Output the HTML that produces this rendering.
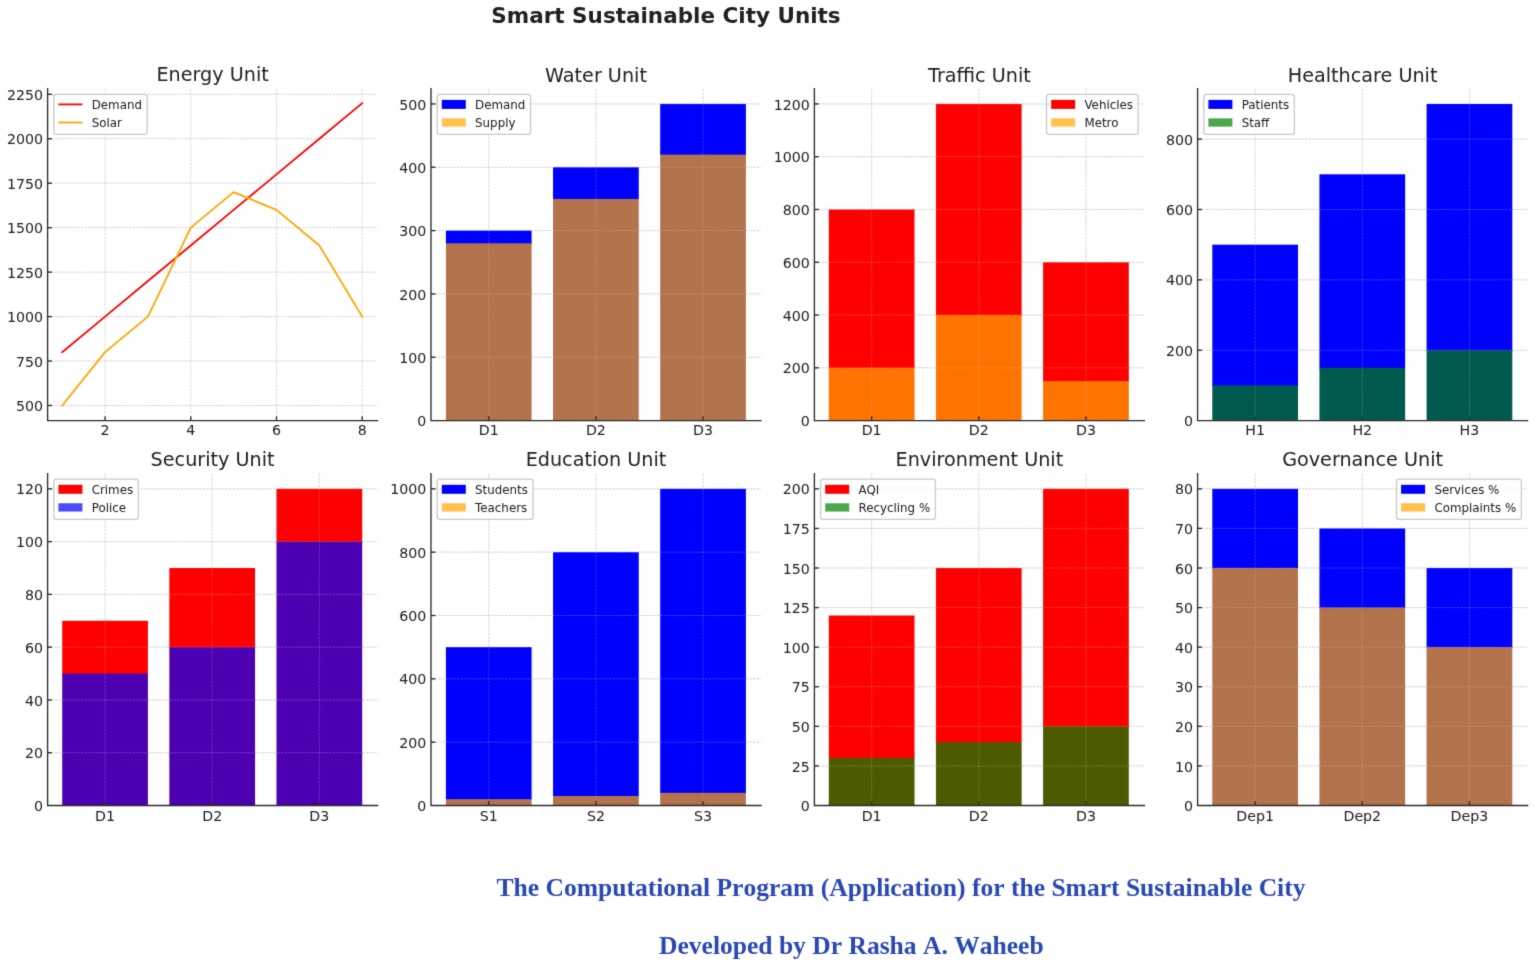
<!DOCTYPE html>
<html lang="en">
<head>
<meta charset="utf-8">
<title>Smart Sustainable City Units</title>
<style>
html,body{margin:0;padding:0;background:#ffffff;}
body{width:1535px;height:966px;position:relative;overflow:hidden;}
svg{position:absolute;left:0;top:0;display:block;}
</style>
</head>
<body>
<svg width="1535" height="966" viewBox="0 0 1535 966" font-family="'DejaVu Sans','Liberation Sans',sans-serif" fill="#202020">
<defs><filter id="soft" x="0" y="0" width="1535" height="966" filterUnits="userSpaceOnUse" color-interpolation-filters="sRGB"><feConvolveMatrix order="3" kernelMatrix="0.0144 0.0912 0.0144 0.0912 0.5776 0.0912 0.0144 0.0912 0.0144" edgeMode="duplicate" preserveAlpha="true"/></filter></defs>
<g filter="url(#soft)">
<rect width="1535" height="966" fill="#ffffff"/>
<text x="666.0" y="23.0" font-size="21.5" font-weight="bold" text-anchor="middle">Smart Sustainable City Units</text>
<g>
<text x="212.6" y="81" font-size="19.2" text-anchor="middle">Energy Unit</text>
<g stroke="#a0a0a0" stroke-opacity="0.45" stroke-width="1.0" stroke-dasharray="2.6 1.1" fill="none"><path d="M105.06 420.6V88.1" stroke-opacity="0.383"/><path d="M190.77 420.6V88.1" stroke-opacity="0.383"/><path d="M276.49 420.6V88.1" stroke-opacity="0.383"/><path d="M362.2 420.6V88.1" stroke-opacity="0.383"/><path d="M47.6 405.49H377.6"/><path d="M47.6 361.03H377.6"/><path d="M47.6 316.58H377.6"/><path d="M47.6 272.13H377.6"/><path d="M47.6 227.68H377.6"/><path d="M47.6 183.23H377.6"/><path d="M47.6 138.78H377.6"/><path d="M47.6 94.32H377.6"/></g>
<polyline points="62.2,352.14 105.06,316.58 147.91,281.02 190.77,245.46 233.63,209.9 276.49,174.34 319.34,138.78 362.2,103.21" fill="none" stroke="#ff0000" stroke-width="1.8" stroke-linejoin="round" stroke-linecap="square"/>
<polyline points="62.2,405.49 105.06,352.14 147.91,316.58 190.77,227.68 233.63,192.12 276.49,209.9 319.34,245.46 362.2,316.58" fill="none" stroke="#ffa500" stroke-width="1.8" stroke-linejoin="round" stroke-linecap="square"/>
<g stroke="#2c2c2c" stroke-width="1.35" fill="none"><path d="M105.06 420.6v-4.4"/><path d="M190.77 420.6v-4.4"/><path d="M276.49 420.6v-4.4"/><path d="M362.2 420.6v-4.4"/><path d="M47.6 405.49h4.4"/><path d="M47.6 361.03h4.4"/><path d="M47.6 316.58h4.4"/><path d="M47.6 272.13h4.4"/><path d="M47.6 227.68h4.4"/><path d="M47.6 183.23h4.4"/><path d="M47.6 138.78h4.4"/><path d="M47.6 94.32h4.4"/><path d="M47.6 88.1V421.28M46.93 420.6H378.28"/></g>
<g font-size="14.2"><text x="105.06" y="435.4" text-anchor="middle">2</text><text x="190.77" y="435.4" text-anchor="middle">4</text><text x="276.49" y="435.4" text-anchor="middle">6</text><text x="362.2" y="435.4" text-anchor="middle">8</text><text x="43" y="411.09" text-anchor="end">500</text><text x="43" y="366.63" text-anchor="end">750</text><text x="43" y="322.18" text-anchor="end">1000</text><text x="43" y="277.73" text-anchor="end">1250</text><text x="43" y="233.28" text-anchor="end">1500</text><text x="43" y="188.83" text-anchor="end">1750</text><text x="43" y="144.38" text-anchor="end">2000</text><text x="43" y="99.92" text-anchor="end">2250</text></g>
<g font-size="11.85"><rect x="53.8" y="94.3" width="93.35" height="40.1" rx="2.6" fill="#ffffff" fill-opacity="0.8" stroke="#c4c4c4" stroke-opacity="0.9" stroke-width="1.3"/><path d="M58.4 104.4h24" stroke="#ff0000" stroke-width="1.8"/><text x="91.7" y="109.1">Demand</text><path d="M58.4 122.5h24" stroke="#ffa500" stroke-width="1.8"/><text x="91.7" y="127">Solar</text></g>
</g>
<g>
<text x="596" y="81.7" font-size="19.2" text-anchor="middle">Water Unit</text>
<g stroke="#a0a0a0" stroke-opacity="0.45" stroke-width="1.0" stroke-dasharray="2.6 1.1" fill="none"><path d="M488.76 420.6V88.1" stroke-opacity="0.383"/><path d="M595.9 420.6V88.1" stroke-opacity="0.383"/><path d="M703.04 420.6V88.1" stroke-opacity="0.383"/><path d="M431 420.6H761"/><path d="M431 357.27H761"/><path d="M431 293.93H761"/><path d="M431 230.6H761"/><path d="M431 167.27H761"/><path d="M431 103.93H761"/></g>
<rect x="445.9" y="230.6" width="85.71" height="13.67" fill="#0000ff"/>
<rect x="445.9" y="243.27" width="85.71" height="177.33" fill="#b2734d"/>
<rect x="553.04" y="167.27" width="85.71" height="32.67" fill="#0000ff"/>
<rect x="553.04" y="198.93" width="85.71" height="221.67" fill="#b2734d"/>
<rect x="660.19" y="103.93" width="85.71" height="51.67" fill="#0000ff"/>
<rect x="660.19" y="154.6" width="85.71" height="266" fill="#b2734d"/>
<g stroke="#d8d8d8" stroke-opacity="0.27" stroke-width="1.0" stroke-dasharray="2.6 1.1" fill="none"><path d="M488.76 420.6V88.1" stroke-opacity="0.23"/><path d="M595.9 420.6V88.1" stroke-opacity="0.23"/><path d="M703.04 420.6V88.1" stroke-opacity="0.23"/><path d="M431 420.6H761"/><path d="M431 357.27H761"/><path d="M431 293.93H761"/><path d="M431 230.6H761"/><path d="M431 167.27H761"/><path d="M431 103.93H761"/></g>
<g stroke="#2c2c2c" stroke-width="1.35" fill="none"><path d="M488.76 420.6v-4.4"/><path d="M595.9 420.6v-4.4"/><path d="M703.04 420.6v-4.4"/><path d="M431 357.27h4.4"/><path d="M431 293.93h4.4"/><path d="M431 230.6h4.4"/><path d="M431 167.27h4.4"/><path d="M431 103.93h4.4"/><path d="M431 88.1V421.28M430.32 420.6H761.67"/></g>
<g font-size="14.2"><text x="488.76" y="435.4" text-anchor="middle">D1</text><text x="595.9" y="435.4" text-anchor="middle">D2</text><text x="703.04" y="435.4" text-anchor="middle">D3</text><text x="426.4" y="426.2" text-anchor="end">0</text><text x="426.4" y="362.87" text-anchor="end">100</text><text x="426.4" y="299.53" text-anchor="end">200</text><text x="426.4" y="236.2" text-anchor="end">300</text><text x="426.4" y="172.87" text-anchor="end">400</text><text x="426.4" y="109.53" text-anchor="end">500</text></g>
<g font-size="11.85"><rect x="437.2" y="94.3" width="93.35" height="40.1" rx="2.6" fill="#ffffff" fill-opacity="0.8" stroke="#c4c4c4" stroke-opacity="0.9" stroke-width="1.3"/><rect x="441.8" y="99.9" width="24" height="9" fill="#0000ff"/><text x="475.1" y="109.1">Demand</text><rect x="441.8" y="118.35" width="24" height="8.3" fill="#ffa500" fill-opacity="0.7"/><text x="475.1" y="127">Supply</text></g>
</g>
<g>
<text x="979.4" y="81.6" font-size="19.2" text-anchor="middle">Traffic Unit</text>
<g stroke="#a0a0a0" stroke-opacity="0.45" stroke-width="1.0" stroke-dasharray="2.6 1.1" fill="none"><path d="M871.66 420.6V88.1" stroke-opacity="0.383"/><path d="M978.8 420.6V88.1" stroke-opacity="0.383"/><path d="M1085.94 420.6V88.1" stroke-opacity="0.383"/><path d="M814.4 420.6H1144.4"/><path d="M814.4 367.82H1144.4"/><path d="M814.4 315.04H1144.4"/><path d="M814.4 262.27H1144.4"/><path d="M814.4 209.49H1144.4"/><path d="M814.4 156.71H1144.4"/><path d="M814.4 103.93H1144.4"/></g>
<rect x="828.8" y="209.49" width="85.71" height="159.33" fill="#ff0000"/>
<rect x="828.8" y="367.82" width="85.71" height="52.78" fill="#ff7300"/>
<rect x="935.94" y="103.93" width="85.71" height="212.11" fill="#ff0000"/>
<rect x="935.94" y="315.04" width="85.71" height="105.56" fill="#ff7300"/>
<rect x="1043.09" y="262.27" width="85.71" height="119.75" fill="#ff0000"/>
<rect x="1043.09" y="381.02" width="85.71" height="39.58" fill="#ff7300"/>
<g stroke="#d8d8d8" stroke-opacity="0.27" stroke-width="1.0" stroke-dasharray="2.6 1.1" fill="none"><path d="M871.66 420.6V88.1" stroke-opacity="0.23"/><path d="M978.8 420.6V88.1" stroke-opacity="0.23"/><path d="M1085.94 420.6V88.1" stroke-opacity="0.23"/><path d="M814.4 420.6H1144.4"/><path d="M814.4 367.82H1144.4"/><path d="M814.4 315.04H1144.4"/><path d="M814.4 262.27H1144.4"/><path d="M814.4 209.49H1144.4"/><path d="M814.4 156.71H1144.4"/><path d="M814.4 103.93H1144.4"/></g>
<g stroke="#2c2c2c" stroke-width="1.35" fill="none"><path d="M871.66 420.6v-4.4"/><path d="M978.8 420.6v-4.4"/><path d="M1085.94 420.6v-4.4"/><path d="M814.4 367.82h4.4"/><path d="M814.4 315.04h4.4"/><path d="M814.4 262.27h4.4"/><path d="M814.4 209.49h4.4"/><path d="M814.4 156.71h4.4"/><path d="M814.4 103.93h4.4"/><path d="M814.4 88.1V421.28M813.73 420.6H1145.08"/></g>
<g font-size="14.2"><text x="871.66" y="435.4" text-anchor="middle">D1</text><text x="978.8" y="435.4" text-anchor="middle">D2</text><text x="1085.94" y="435.4" text-anchor="middle">D3</text><text x="809.8" y="426.2" text-anchor="end">0</text><text x="809.8" y="373.42" text-anchor="end">200</text><text x="809.8" y="320.64" text-anchor="end">400</text><text x="809.8" y="267.87" text-anchor="end">600</text><text x="809.8" y="215.09" text-anchor="end">800</text><text x="809.8" y="162.31" text-anchor="end">1000</text><text x="809.8" y="109.53" text-anchor="end">1200</text></g>
<g font-size="11.85"><rect x="1046.55" y="94.3" width="91.65" height="40.1" rx="2.6" fill="#ffffff" fill-opacity="0.8" stroke="#c4c4c4" stroke-opacity="0.9" stroke-width="1.3"/><rect x="1051.15" y="99.9" width="24" height="9" fill="#ff0000"/><text x="1084.45" y="109.1">Vehicles</text><rect x="1051.15" y="118.35" width="24" height="8.3" fill="#ffa500" fill-opacity="0.7"/><text x="1084.45" y="127">Metro</text></g>
</g>
<g>
<text x="1362.6" y="81.7" font-size="19.2" text-anchor="middle">Healthcare Unit</text>
<g stroke="#a0a0a0" stroke-opacity="0.45" stroke-width="1.0" stroke-dasharray="2.6 1.1" fill="none"><path d="M1255.16 420.6V88.1" stroke-opacity="0.383"/><path d="M1362.3 420.6V88.1" stroke-opacity="0.383"/><path d="M1469.44 420.6V88.1" stroke-opacity="0.383"/><path d="M1197.6 420.6H1527.6"/><path d="M1197.6 350.23H1527.6"/><path d="M1197.6 279.86H1527.6"/><path d="M1197.6 209.49H1527.6"/><path d="M1197.6 139.12H1527.6"/></g>
<rect x="1212.3" y="244.67" width="85.71" height="141.74" fill="#0000ff"/>
<rect x="1212.3" y="385.41" width="85.71" height="35.19" fill="#005a4d"/>
<rect x="1319.44" y="174.3" width="85.71" height="194.52" fill="#0000ff"/>
<rect x="1319.44" y="367.82" width="85.71" height="52.78" fill="#005a4d"/>
<rect x="1426.59" y="103.93" width="85.71" height="247.3" fill="#0000ff"/>
<rect x="1426.59" y="350.23" width="85.71" height="70.37" fill="#005a4d"/>
<g stroke="#d8d8d8" stroke-opacity="0.27" stroke-width="1.0" stroke-dasharray="2.6 1.1" fill="none"><path d="M1255.16 420.6V88.1" stroke-opacity="0.23"/><path d="M1362.3 420.6V88.1" stroke-opacity="0.23"/><path d="M1469.44 420.6V88.1" stroke-opacity="0.23"/><path d="M1197.6 420.6H1527.6"/><path d="M1197.6 350.23H1527.6"/><path d="M1197.6 279.86H1527.6"/><path d="M1197.6 209.49H1527.6"/><path d="M1197.6 139.12H1527.6"/></g>
<g stroke="#2c2c2c" stroke-width="1.35" fill="none"><path d="M1255.16 420.6v-4.4"/><path d="M1362.3 420.6v-4.4"/><path d="M1469.44 420.6v-4.4"/><path d="M1197.6 350.23h4.4"/><path d="M1197.6 279.86h4.4"/><path d="M1197.6 209.49h4.4"/><path d="M1197.6 139.12h4.4"/><path d="M1197.6 88.1V421.28M1196.92 420.6H1528.27"/></g>
<g font-size="14.2"><text x="1255.16" y="435.4" text-anchor="middle">H1</text><text x="1362.3" y="435.4" text-anchor="middle">H2</text><text x="1469.44" y="435.4" text-anchor="middle">H3</text><text x="1193" y="426.2" text-anchor="end">0</text><text x="1193" y="355.83" text-anchor="end">200</text><text x="1193" y="285.46" text-anchor="end">400</text><text x="1193" y="215.09" text-anchor="end">600</text><text x="1193" y="144.72" text-anchor="end">800</text></g>
<g font-size="11.85"><rect x="1203.8" y="94.3" width="90.54" height="40.1" rx="2.6" fill="#ffffff" fill-opacity="0.8" stroke="#c4c4c4" stroke-opacity="0.9" stroke-width="1.3"/><rect x="1208.4" y="99.9" width="24" height="9" fill="#0000ff"/><text x="1241.7" y="109.1">Patients</text><rect x="1208.4" y="118.35" width="24" height="8.3" fill="#008000" fill-opacity="0.7"/><text x="1241.7" y="127">Staff</text></g>
</g>
<g>
<text x="212.6" y="466" font-size="19.2" text-anchor="middle">Security Unit</text>
<g stroke="#a0a0a0" stroke-opacity="0.45" stroke-width="1.0" stroke-dasharray="2.6 1.1" fill="none"><path d="M105.06 805.5V473" stroke-opacity="0.383"/><path d="M212.2 805.5V473" stroke-opacity="0.383"/><path d="M319.34 805.5V473" stroke-opacity="0.383"/><path d="M47.6 805.5H377.6"/><path d="M47.6 752.72H377.6"/><path d="M47.6 699.94H377.6"/><path d="M47.6 647.17H377.6"/><path d="M47.6 594.39H377.6"/><path d="M47.6 541.61H377.6"/><path d="M47.6 488.83H377.6"/></g>
<rect x="62.2" y="620.78" width="85.71" height="53.78" fill="#ff0000"/>
<rect x="62.2" y="673.56" width="85.71" height="131.94" fill="#4d00b2"/>
<rect x="169.34" y="568" width="85.71" height="80.17" fill="#ff0000"/>
<rect x="169.34" y="647.17" width="85.71" height="158.33" fill="#4d00b2"/>
<rect x="276.49" y="488.83" width="85.71" height="53.78" fill="#ff0000"/>
<rect x="276.49" y="541.61" width="85.71" height="263.89" fill="#4d00b2"/>
<g stroke="#d8d8d8" stroke-opacity="0.27" stroke-width="1.0" stroke-dasharray="2.6 1.1" fill="none"><path d="M105.06 805.5V473" stroke-opacity="0.23"/><path d="M212.2 805.5V473" stroke-opacity="0.23"/><path d="M319.34 805.5V473" stroke-opacity="0.23"/><path d="M47.6 805.5H377.6"/><path d="M47.6 752.72H377.6"/><path d="M47.6 699.94H377.6"/><path d="M47.6 647.17H377.6"/><path d="M47.6 594.39H377.6"/><path d="M47.6 541.61H377.6"/><path d="M47.6 488.83H377.6"/></g>
<g stroke="#2c2c2c" stroke-width="1.35" fill="none"><path d="M105.06 805.5v-4.4"/><path d="M212.2 805.5v-4.4"/><path d="M319.34 805.5v-4.4"/><path d="M47.6 752.72h4.4"/><path d="M47.6 699.94h4.4"/><path d="M47.6 647.17h4.4"/><path d="M47.6 594.39h4.4"/><path d="M47.6 541.61h4.4"/><path d="M47.6 488.83h4.4"/><path d="M47.6 473V806.17M46.93 805.5H378.28"/></g>
<g font-size="14.2"><text x="105.06" y="820.8" text-anchor="middle">D1</text><text x="212.2" y="820.8" text-anchor="middle">D2</text><text x="319.34" y="820.8" text-anchor="middle">D3</text><text x="43" y="811.1" text-anchor="end">0</text><text x="43" y="758.32" text-anchor="end">20</text><text x="43" y="705.54" text-anchor="end">40</text><text x="43" y="652.77" text-anchor="end">60</text><text x="43" y="599.99" text-anchor="end">80</text><text x="43" y="547.21" text-anchor="end">100</text><text x="43" y="494.43" text-anchor="end">120</text></g>
<g font-size="11.85"><rect x="53.8" y="479.2" width="84.55" height="40.1" rx="2.6" fill="#ffffff" fill-opacity="0.8" stroke="#c4c4c4" stroke-opacity="0.9" stroke-width="1.3"/><rect x="58.4" y="484.8" width="24" height="9" fill="#ff0000"/><text x="91.7" y="494">Crimes</text><rect x="58.4" y="503.25" width="24" height="8.3" fill="#0000ff" fill-opacity="0.7"/><text x="91.7" y="511.9">Police</text></g>
</g>
<g>
<text x="596" y="466" font-size="19.2" text-anchor="middle">Education Unit</text>
<g stroke="#a0a0a0" stroke-opacity="0.45" stroke-width="1.0" stroke-dasharray="2.6 1.1" fill="none"><path d="M488.76 805.5V473" stroke-opacity="0.383"/><path d="M595.9 805.5V473" stroke-opacity="0.383"/><path d="M703.04 805.5V473" stroke-opacity="0.383"/><path d="M431 805.5H761"/><path d="M431 742.17H761"/><path d="M431 678.83H761"/><path d="M431 615.5H761"/><path d="M431 552.17H761"/><path d="M431 488.83H761"/></g>
<rect x="445.9" y="647.17" width="85.71" height="153" fill="#0000ff"/>
<rect x="445.9" y="799.17" width="85.71" height="6.33" fill="#b2734d"/>
<rect x="553.04" y="552.17" width="85.71" height="244.83" fill="#0000ff"/>
<rect x="553.04" y="796" width="85.71" height="9.5" fill="#b2734d"/>
<rect x="660.19" y="488.83" width="85.71" height="305" fill="#0000ff"/>
<rect x="660.19" y="792.83" width="85.71" height="12.67" fill="#b2734d"/>
<g stroke="#d8d8d8" stroke-opacity="0.27" stroke-width="1.0" stroke-dasharray="2.6 1.1" fill="none"><path d="M488.76 805.5V473" stroke-opacity="0.23"/><path d="M595.9 805.5V473" stroke-opacity="0.23"/><path d="M703.04 805.5V473" stroke-opacity="0.23"/><path d="M431 805.5H761"/><path d="M431 742.17H761"/><path d="M431 678.83H761"/><path d="M431 615.5H761"/><path d="M431 552.17H761"/><path d="M431 488.83H761"/></g>
<g stroke="#2c2c2c" stroke-width="1.35" fill="none"><path d="M488.76 805.5v-4.4"/><path d="M595.9 805.5v-4.4"/><path d="M703.04 805.5v-4.4"/><path d="M431 742.17h4.4"/><path d="M431 678.83h4.4"/><path d="M431 615.5h4.4"/><path d="M431 552.17h4.4"/><path d="M431 488.83h4.4"/><path d="M431 473V806.17M430.32 805.5H761.67"/></g>
<g font-size="14.2"><text x="488.76" y="820.8" text-anchor="middle">S1</text><text x="595.9" y="820.8" text-anchor="middle">S2</text><text x="703.04" y="820.8" text-anchor="middle">S3</text><text x="426.4" y="811.1" text-anchor="end">0</text><text x="426.4" y="747.77" text-anchor="end">200</text><text x="426.4" y="684.43" text-anchor="end">400</text><text x="426.4" y="621.1" text-anchor="end">600</text><text x="426.4" y="557.77" text-anchor="end">800</text><text x="426.4" y="494.43" text-anchor="end">1000</text></g>
<g font-size="11.85"><rect x="437.2" y="479.2" width="95.92" height="40.1" rx="2.6" fill="#ffffff" fill-opacity="0.8" stroke="#c4c4c4" stroke-opacity="0.9" stroke-width="1.3"/><rect x="441.8" y="484.8" width="24" height="9" fill="#0000ff"/><text x="475.1" y="494">Students</text><rect x="441.8" y="503.25" width="24" height="8.3" fill="#ffa500" fill-opacity="0.7"/><text x="475.1" y="511.9">Teachers</text></g>
</g>
<g>
<text x="979.4" y="466" font-size="19.2" text-anchor="middle">Environment Unit</text>
<g stroke="#a0a0a0" stroke-opacity="0.45" stroke-width="1.0" stroke-dasharray="2.6 1.1" fill="none"><path d="M871.66 805.5V473" stroke-opacity="0.383"/><path d="M978.8 805.5V473" stroke-opacity="0.383"/><path d="M1085.94 805.5V473" stroke-opacity="0.383"/><path d="M814.4 805.5H1144.4"/><path d="M814.4 765.92H1144.4"/><path d="M814.4 726.33H1144.4"/><path d="M814.4 686.75H1144.4"/><path d="M814.4 647.17H1144.4"/><path d="M814.4 607.58H1144.4"/><path d="M814.4 568H1144.4"/><path d="M814.4 528.42H1144.4"/><path d="M814.4 488.83H1144.4"/></g>
<rect x="828.8" y="615.5" width="85.71" height="143.5" fill="#ff0000"/>
<rect x="828.8" y="758" width="85.71" height="47.5" fill="#4d5a00"/>
<rect x="935.94" y="568" width="85.71" height="175.17" fill="#ff0000"/>
<rect x="935.94" y="742.17" width="85.71" height="63.33" fill="#4d5a00"/>
<rect x="1043.09" y="488.83" width="85.71" height="238.5" fill="#ff0000"/>
<rect x="1043.09" y="726.33" width="85.71" height="79.17" fill="#4d5a00"/>
<g stroke="#d8d8d8" stroke-opacity="0.27" stroke-width="1.0" stroke-dasharray="2.6 1.1" fill="none"><path d="M871.66 805.5V473" stroke-opacity="0.23"/><path d="M978.8 805.5V473" stroke-opacity="0.23"/><path d="M1085.94 805.5V473" stroke-opacity="0.23"/><path d="M814.4 805.5H1144.4"/><path d="M814.4 765.92H1144.4"/><path d="M814.4 726.33H1144.4"/><path d="M814.4 686.75H1144.4"/><path d="M814.4 647.17H1144.4"/><path d="M814.4 607.58H1144.4"/><path d="M814.4 568H1144.4"/><path d="M814.4 528.42H1144.4"/><path d="M814.4 488.83H1144.4"/></g>
<g stroke="#2c2c2c" stroke-width="1.35" fill="none"><path d="M871.66 805.5v-4.4"/><path d="M978.8 805.5v-4.4"/><path d="M1085.94 805.5v-4.4"/><path d="M814.4 765.92h4.4"/><path d="M814.4 726.33h4.4"/><path d="M814.4 686.75h4.4"/><path d="M814.4 647.17h4.4"/><path d="M814.4 607.58h4.4"/><path d="M814.4 568h4.4"/><path d="M814.4 528.42h4.4"/><path d="M814.4 488.83h4.4"/><path d="M814.4 473V806.17M813.73 805.5H1145.08"/></g>
<g font-size="14.2"><text x="871.66" y="820.8" text-anchor="middle">D1</text><text x="978.8" y="820.8" text-anchor="middle">D2</text><text x="1085.94" y="820.8" text-anchor="middle">D3</text><text x="809.8" y="811.1" text-anchor="end">0</text><text x="809.8" y="771.52" text-anchor="end">25</text><text x="809.8" y="731.93" text-anchor="end">50</text><text x="809.8" y="692.35" text-anchor="end">75</text><text x="809.8" y="652.77" text-anchor="end">100</text><text x="809.8" y="613.18" text-anchor="end">125</text><text x="809.8" y="573.6" text-anchor="end">150</text><text x="809.8" y="534.02" text-anchor="end">175</text><text x="809.8" y="494.43" text-anchor="end">200</text></g>
<g font-size="11.85"><rect x="820.6" y="479.2" width="114.78" height="40.1" rx="2.6" fill="#ffffff" fill-opacity="0.8" stroke="#c4c4c4" stroke-opacity="0.9" stroke-width="1.3"/><rect x="825.2" y="484.8" width="24" height="9" fill="#ff0000"/><text x="858.5" y="494">AQI</text><rect x="825.2" y="503.25" width="24" height="8.3" fill="#008000" fill-opacity="0.7"/><text x="858.5" y="511.9">Recycling %</text></g>
</g>
<g>
<text x="1362.6" y="466.2" font-size="19.2" text-anchor="middle">Governance Unit</text>
<g stroke="#a0a0a0" stroke-opacity="0.45" stroke-width="1.0" stroke-dasharray="2.6 1.1" fill="none"><path d="M1255.16 805.5V473" stroke-opacity="0.383"/><path d="M1362.3 805.5V473" stroke-opacity="0.383"/><path d="M1469.44 805.5V473" stroke-opacity="0.383"/><path d="M1197.6 805.5H1527.6"/><path d="M1197.6 765.92H1527.6"/><path d="M1197.6 726.33H1527.6"/><path d="M1197.6 686.75H1527.6"/><path d="M1197.6 647.17H1527.6"/><path d="M1197.6 607.58H1527.6"/><path d="M1197.6 568H1527.6"/><path d="M1197.6 528.42H1527.6"/><path d="M1197.6 488.83H1527.6"/></g>
<rect x="1212.3" y="488.83" width="85.71" height="80.17" fill="#0000ff"/>
<rect x="1212.3" y="568" width="85.71" height="237.5" fill="#b2734d"/>
<rect x="1319.44" y="528.42" width="85.71" height="80.17" fill="#0000ff"/>
<rect x="1319.44" y="607.58" width="85.71" height="197.92" fill="#b2734d"/>
<rect x="1426.59" y="568" width="85.71" height="80.17" fill="#0000ff"/>
<rect x="1426.59" y="647.17" width="85.71" height="158.33" fill="#b2734d"/>
<g stroke="#d8d8d8" stroke-opacity="0.27" stroke-width="1.0" stroke-dasharray="2.6 1.1" fill="none"><path d="M1255.16 805.5V473" stroke-opacity="0.23"/><path d="M1362.3 805.5V473" stroke-opacity="0.23"/><path d="M1469.44 805.5V473" stroke-opacity="0.23"/><path d="M1197.6 805.5H1527.6"/><path d="M1197.6 765.92H1527.6"/><path d="M1197.6 726.33H1527.6"/><path d="M1197.6 686.75H1527.6"/><path d="M1197.6 647.17H1527.6"/><path d="M1197.6 607.58H1527.6"/><path d="M1197.6 568H1527.6"/><path d="M1197.6 528.42H1527.6"/><path d="M1197.6 488.83H1527.6"/></g>
<g stroke="#2c2c2c" stroke-width="1.35" fill="none"><path d="M1255.16 805.5v-4.4"/><path d="M1362.3 805.5v-4.4"/><path d="M1469.44 805.5v-4.4"/><path d="M1197.6 765.92h4.4"/><path d="M1197.6 726.33h4.4"/><path d="M1197.6 686.75h4.4"/><path d="M1197.6 647.17h4.4"/><path d="M1197.6 607.58h4.4"/><path d="M1197.6 568h4.4"/><path d="M1197.6 528.42h4.4"/><path d="M1197.6 488.83h4.4"/><path d="M1197.6 473V806.17M1196.92 805.5H1528.27"/></g>
<g font-size="14.2"><text x="1255.16" y="820.8" text-anchor="middle">Dep1</text><text x="1362.3" y="820.8" text-anchor="middle">Dep2</text><text x="1469.44" y="820.8" text-anchor="middle">Dep3</text><text x="1193" y="811.1" text-anchor="end">0</text><text x="1193" y="771.52" text-anchor="end">10</text><text x="1193" y="731.93" text-anchor="end">20</text><text x="1193" y="692.35" text-anchor="end">30</text><text x="1193" y="652.77" text-anchor="end">40</text><text x="1193" y="613.18" text-anchor="end">50</text><text x="1193" y="573.6" text-anchor="end">60</text><text x="1193" y="534.02" text-anchor="end">70</text><text x="1193" y="494.43" text-anchor="end">80</text></g>
<g font-size="11.85"><rect x="1396.51" y="479.2" width="124.89" height="40.1" rx="2.6" fill="#ffffff" fill-opacity="0.8" stroke="#c4c4c4" stroke-opacity="0.9" stroke-width="1.3"/><rect x="1401.11" y="484.8" width="24" height="9" fill="#0000ff"/><text x="1434.41" y="494">Services %</text><rect x="1401.11" y="503.25" width="24" height="8.3" fill="#ffa500" fill-opacity="0.7"/><text x="1434.41" y="511.9">Complaints %</text></g>
</g>
<g font-family="'Liberation Serif','DejaVu Serif',serif" font-weight="bold" font-size="25.55" fill="#2a48b4" style="font-kerning:none">
<text x="496.5" y="895.8">The Computational Program (Application) for the Smart Sustainable City</text>
<text x="659.0" y="953.8">Developed by Dr Rasha A. Waheeb</text>
</g>
</g>
</svg>
</body>
</html>
